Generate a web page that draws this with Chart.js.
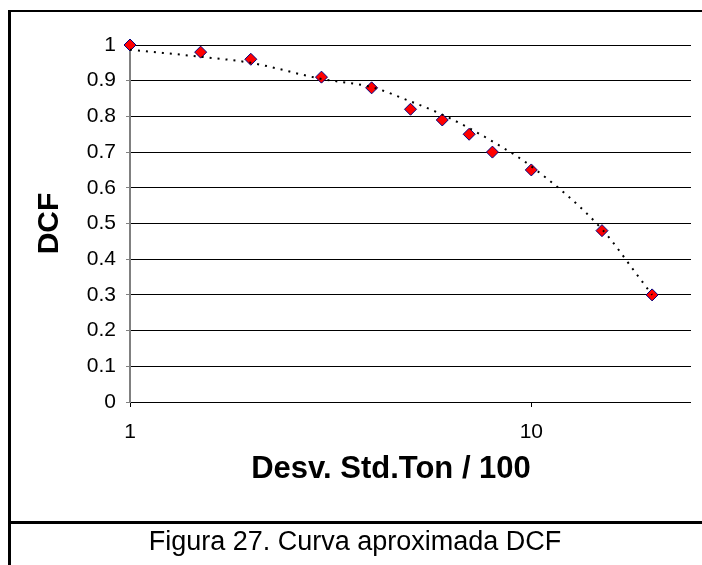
<!DOCTYPE html>
<html>
<head>
<meta charset="utf-8">
<script src="https://cdn.jsdelivr.net/npm/chart.js@4/dist/chart.umd.min.js"></script>
<style>
  html, body { margin:0; padding:0; background:#fff; }
  #wrap { position:relative; width:702px; height:565px; }
</style>
</head>
<body>
<div id="wrap"><canvas id="c" width="702" height="565"></canvas></div>
<script>
// measured points (Desv. Std.Ton / 100 vs DCF)
const desvStd = [1, 1.5, 2, 3, 4, 5, 6, 7, 8, 10, 15, 20];
const dcf     = [1, 0.98, 0.96, 0.91, 0.88, 0.82, 0.79, 0.75, 0.70, 0.65, 0.48, 0.30];
// dotted trend curve
const trendX  = [1, 1.5, 2, 3, 4, 5, 6, 7, 8, 10, 15, 18.3, 20];
const trendY  = [0.987, 0.967, 0.95, 0.905, 0.882, 0.842, 0.805, 0.767, 0.73, 0.66, 0.484, 0.358, 0.30];
const xTicks  = [1, 10];

const FONT = 'Arial, "Liberation Sans", sans-serif';

const frame = {
  id:'frame',
  afterDraw(chart){
    const ctx = chart.ctx;
    ctx.save();
    ctx.fillStyle = '#000';
    ctx.fillRect(8, 10, 3, 555);     // left edge
    ctx.fillRect(8, 10, 694, 2);     // top edge
    ctx.fillRect(8, 521, 694, 3);    // caption separator
    ctx.textAlign = 'center';
    ctx.textBaseline = 'middle';
    ctx.font = 'bold 31px ' + FONT;
    ctx.fillText('Desv. Std.Ton / 100', 391, 469);
    ctx.font = '27px ' + FONT;
    ctx.fillText('Figura 27. Curva aproximada DCF', 355, 543);
    ctx.restore();
  }
};

new Chart(document.getElementById('c'), {
  type:'scatter',
  data:{
    datasets:[
      { label:'Tendencia', data: trendX.map((x,i)=>({x, y:trendY[i]})), showLine:true,
        borderColor:'#000', borderWidth:2, borderDash:[2,6], pointRadius:0,
        cubicInterpolationMode:'monotone', clip:false },
      { label:'DCF', data: desvStd.map((x,i)=>({x, y:dcf[i]})), pointStyle:'rectRot',
        pointRadius:6, pointBackgroundColor:'#ff0000', pointBorderColor:'#000080',
        pointBorderWidth:1, clip:false }
    ]
  },
  options:{
    responsive:false, animation:false,
    layout:{ padding:{ top:45, right:11, bottom:0, left:0 } },
    plugins:{ legend:{ display:false }, tooltip:{ enabled:false } },
    scales:{
      x:{
        type:'logarithmic', min:1, max:25,
        afterFit(s){ s.height = 163; },
        afterBuildTicks(s){ s.ticks = xTicks.map(v=>({ value:v })); },
        grid:{ drawOnChartArea:false, drawTicks:true, tickLength:5, color:'#000' },
        border:{ display:false },
        ticks:{ color:'#000', padding:13, maxRotation:0, font:{ family:FONT, size:21 }, callback:v=>String(v) }
      },
      y:{
        min:0, max:1,
        afterFit(s){ s.width = 130; },
        grid:{ color:'#000', lineWidth:1, tickLength:4, tickColor:'#808080' },
        border:{ display:true, color:'#808080', width:2 },
        ticks:{ stepSize:0.1, color:'#000', padding:10, font:{ family:FONT, size:21 },
          callback:v=>String(Math.round(v*10)/10) },
        title:{ display:true, text:'DCF', color:'#000', padding:{ top:32, bottom:0 },
          font:{ family:FONT, size:30, weight:'bold' } }
      }
    }
  },
  plugins:[frame]
});
</script>
</body>
</html>
